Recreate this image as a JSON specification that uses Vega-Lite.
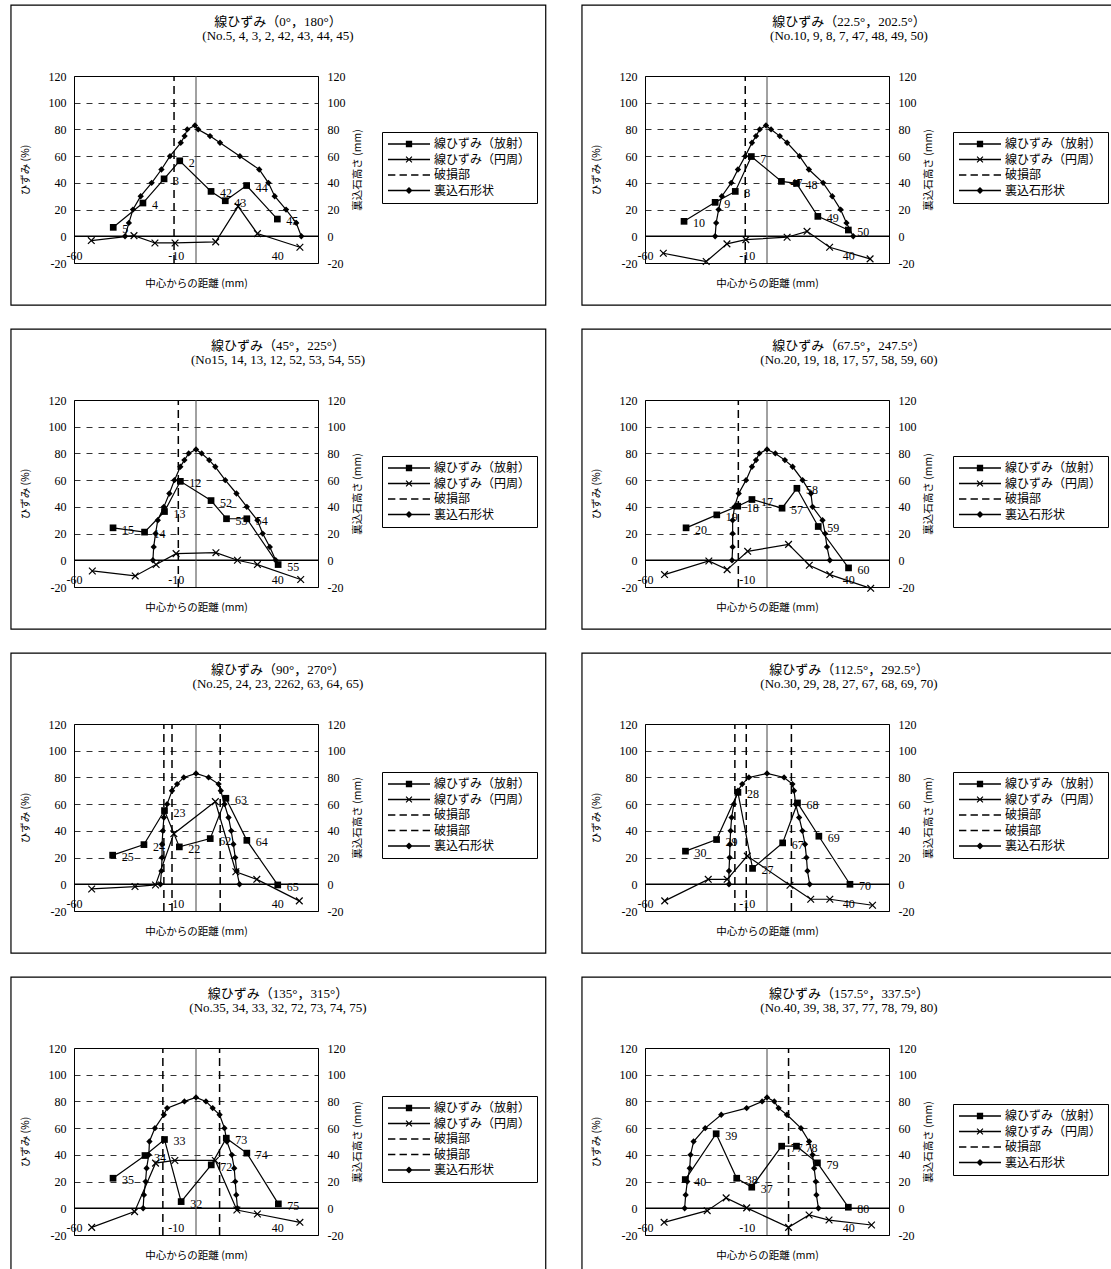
{
"$schema":"https://vega.github.io/schema/vega-lite/v6.json",
"background":"white",
"padding":{"left":9,"top":4,"right":0,"bottom":0},
"config":{
 "view":{"stroke":"black","strokeWidth":1},
 "axis":{"labelFont":"Liberation Serif","labelFontSize":12,"labelColor":"black","titleFont":"Noto Sans CJK JP","titleFontSize":10.5,"titleFontWeight":"normal","titleColor":"black","ticks":false,"domain":false,"labelFlush":false,"labelOverlap":false,"grid":false},
 "title":{"font":"Liberation Serif, Noto Sans CJK JP","fontSize":13,"fontWeight":"normal","color":"black","anchor":"middle","frame":"group","dx":82,"offset":-38,"lineHeight":14},
 "legend":{"title":null,"strokeColor":"black","strokeWidth":1,"padding":6,"fillColor":"white","symbolSize":1764,"symbolStrokeWidth":0,"symbolFillColor":"black","symbolOpacity":1,"labelFont":"Noto Sans CJK JP","labelFontSize":12,"labelColor":"black","labelOffset":4,"rowPadding":3.5,"labelLimit":0,"clipHeight":12}
},
"datasets":{
"p1":[{"s":"r","x":-40.7,"y":6.7,"l":"5"},{"s":"r","x":-26.1,"y":24.9,"l":"4"},{"s":"r","x":-15.7,"y":43,"l":"3"},{"s":"r","x":-8,"y":56.5,"l":"2"},{"s":"r","x":7.4,"y":33.6,"l":"42"},{"s":"r","x":14.4,"y":26.6,"l":"43"},{"s":"r","x":24.9,"y":38,"l":"44"},{"s":"r","x":40,"y":12.9,"l":"45"},
{"s":"c","x":-51.5,"y":-3.2},{"s":"c","x":-30.5,"y":0.5},{"s":"c","x":-20.2,"y":-5},{"s":"c","x":-10.3,"y":-5},{"s":"c","x":9.7,"y":-4.2},{"s":"c","x":20.7,"y":22.4},{"s":"c","x":30.2,"y":2},{"s":"c","x":51.1,"y":-8.2},
{"s":"b","x":-34.9,"y":0},{"s":"b","x":-33,"y":10},{"s":"b","x":-31,"y":20},{"s":"b","x":-27.2,"y":30},{"s":"b","x":-21.8,"y":40},{"s":"b","x":-17,"y":50},{"s":"b","x":-12.8,"y":60},{"s":"b","x":-7.5,"y":70},{"s":"b","x":-5.6,"y":75},{"s":"b","x":-4.3,"y":80},{"s":"b","x":-0.5,"y":83},{"s":"b","x":1.1,"y":80},{"s":"b","x":6.9,"y":75},{"s":"b","x":11.8,"y":70},{"s":"b","x":21.6,"y":60},{"s":"b","x":31.1,"y":50},{"s":"b","x":35.6,"y":40},{"s":"b","x":38.7,"y":30},{"s":"b","x":44.3,"y":20},{"s":"b","x":49.3,"y":10},{"s":"b","x":51.8,"y":0},
{"s":"d","x":-10.8}],
"p2":[{"s":"r","x":-40.8,"y":11.2,"l":"10"},{"s":"r","x":-25.5,"y":25.4,"l":"9"},{"s":"r","x":-15.6,"y":33.6,"l":"8"},{"s":"r","x":-7.7,"y":59.7,"l":"7"},{"s":"r","x":7.1,"y":41.1,"l":"47"},{"s":"r","x":14.5,"y":39.6,"l":"48"},{"s":"r","x":25,"y":14.9,"l":"49"},{"s":"r","x":40,"y":4.7,"l":"50"},
{"s":"c","x":-51,"y":-12.7},{"s":"c","x":-29.9,"y":-18.9},{"s":"c","x":-19.7,"y":-5.7},{"s":"c","x":-10.4,"y":-2.5},{"s":"c","x":9.9,"y":-0.7},{"s":"c","x":19.7,"y":3.7},{"s":"c","x":30.8,"y":-8.2},{"s":"c","x":50.7,"y":-16.9},
{"s":"b","x":-25.5,"y":0},{"s":"b","x":-25,"y":10},{"s":"b","x":-23.8,"y":20},{"s":"b","x":-22.2,"y":30},{"s":"b","x":-17.6,"y":40},{"s":"b","x":-14.3,"y":50},{"s":"b","x":-10.7,"y":60},{"s":"b","x":-7.4,"y":70},{"s":"b","x":-5.4,"y":75},{"s":"b","x":-3.6,"y":80},{"s":"b","x":-0.5,"y":83},{"s":"b","x":2,"y":80},{"s":"b","x":6.3,"y":75},{"s":"b","x":9.9,"y":70},{"s":"b","x":16,"y":60},{"s":"b","x":20.6,"y":50},{"s":"b","x":27.6,"y":40},{"s":"b","x":32.1,"y":30},{"s":"b","x":36.2,"y":20},{"s":"b","x":39.1,"y":10},{"s":"b","x":42.4,"y":0},
{"s":"d","x":-10.7}],
"p3":[{"s":"r","x":-40.8,"y":24.3,"l":"15"},{"s":"r","x":-25.3,"y":21.1,"l":"14"},{"s":"r","x":-15.5,"y":36.5,"l":"13"},{"s":"r","x":-7.7,"y":59.1,"l":"12"},{"s":"r","x":7.4,"y":44.7,"l":"52"},{"s":"r","x":15,"y":31.1,"l":"53"},{"s":"r","x":25,"y":31.1,"l":"54"},{"s":"r","x":40.4,"y":-3.2,"l":"55"},
{"s":"c","x":-51,"y":-8},{"s":"c","x":-29.9,"y":-11.7},{"s":"c","x":-19.6,"y":-3.2},{"s":"c","x":-9.8,"y":5},{"s":"c","x":9.8,"y":5.7},{"s":"c","x":20.4,"y":0},{"s":"c","x":30.2,"y":-3.2},{"s":"c","x":51.5,"y":-14.4},
{"s":"b","x":-21.2,"y":0},{"s":"b","x":-20.8,"y":10},{"s":"b","x":-19.9,"y":20},{"s":"b","x":-18.8,"y":30},{"s":"b","x":-15.8,"y":40},{"s":"b","x":-13.1,"y":50},{"s":"b","x":-10.6,"y":60},{"s":"b","x":-7.7,"y":70},{"s":"b","x":-5.7,"y":75},{"s":"b","x":-3.6,"y":80},{"s":"b","x":0,"y":83},{"s":"b","x":2.8,"y":80},{"s":"b","x":6.5,"y":75},{"s":"b","x":9.5,"y":70},{"s":"b","x":14.4,"y":60},{"s":"b","x":19.9,"y":50},{"s":"b","x":25,"y":40},{"s":"b","x":30.2,"y":30},{"s":"b","x":32.8,"y":20},{"s":"b","x":36.3,"y":10},{"s":"b","x":39.2,"y":0},
{"s":"d","x":-8.7}],
"p4":[{"s":"r","x":-39.8,"y":24.3,"l":"20"},{"s":"r","x":-24.7,"y":34,"l":"19"},{"s":"r","x":-14.4,"y":40.5,"l":"18"},{"s":"r","x":-7.4,"y":45.5,"l":"17"},{"s":"r","x":7.4,"y":39,"l":"57"},{"s":"r","x":14.7,"y":53.9,"l":"58"},{"s":"r","x":25.2,"y":25.3,"l":"59"},{"s":"r","x":40.1,"y":-5.7,"l":"60"},
{"s":"c","x":-50.4,"y":-10.7},{"s":"c","x":-28.6,"y":-0.5},{"s":"c","x":-19.6,"y":-7},{"s":"c","x":-9.5,"y":6.7},{"s":"c","x":10.6,"y":11.9},{"s":"c","x":20.8,"y":-3.7},{"s":"c","x":30.9,"y":-10.7},{"s":"c","x":51,"y":-21},
{"s":"b","x":-17.2,"y":0},{"s":"b","x":-16.9,"y":10},{"s":"b","x":-16.9,"y":20},{"s":"b","x":-16.9,"y":30},{"s":"b","x":-16,"y":40},{"s":"b","x":-13.9,"y":50},{"s":"b","x":-10.3,"y":60},{"s":"b","x":-7.4,"y":70},{"s":"b","x":-5.4,"y":75},{"s":"b","x":-3.8,"y":80},{"s":"b","x":0,"y":83},{"s":"b","x":4.1,"y":80},{"s":"b","x":8.8,"y":75},{"s":"b","x":12.6,"y":70},{"s":"b","x":17.5,"y":60},{"s":"b","x":21.6,"y":50},{"s":"b","x":22.4,"y":40},{"s":"b","x":27.3,"y":30},{"s":"b","x":28.6,"y":20},{"s":"b","x":29.5,"y":10},{"s":"b","x":30.9,"y":0},
{"s":"d","x":-14.1}],
"p5":[{"s":"r","x":-41,"y":21.8,"l":"25"},{"s":"r","x":-25.6,"y":29.7,"l":"24"},{"s":"r","x":-15.5,"y":55.2,"l":"23"},{"s":"r","x":-8.2,"y":28,"l":"22"},{"s":"r","x":7,"y":34.2,"l":"62"},{"s":"r","x":14.7,"y":64.4,"l":"63"},{"s":"r","x":25,"y":32.9,"l":"64"},{"s":"r","x":40.2,"y":-0.5,"l":"65"},
{"s":"c","x":-51.3,"y":-3.5},{"s":"c","x":-30,"y":-1.7},{"s":"c","x":-19.9,"y":-0.5},{"s":"c","x":-10.9,"y":37.9},{"s":"c","x":9.5,"y":61.9},{"s":"c","x":19.6,"y":9.4},{"s":"c","x":29.9,"y":3.7},{"s":"c","x":50.8,"y":-12.4},
{"s":"b","x":-17.5,"y":0},{"s":"b","x":-17,"y":10},{"s":"b","x":-16.7,"y":20},{"s":"b","x":-16.7,"y":30},{"s":"b","x":-16.3,"y":40},{"s":"b","x":-15.8,"y":50},{"s":"b","x":-14.2,"y":60},{"s":"b","x":-11.8,"y":70},{"s":"b","x":-9.3,"y":75},{"s":"b","x":-6,"y":80},{"s":"b","x":0,"y":83},{"s":"b","x":6.2,"y":80},{"s":"b","x":11.1,"y":75},{"s":"b","x":12.2,"y":70},{"s":"b","x":14,"y":60},{"s":"b","x":16,"y":50},{"s":"b","x":17.3,"y":40},{"s":"b","x":18.4,"y":30},{"s":"b","x":19.3,"y":20},{"s":"b","x":20,"y":10},{"s":"b","x":21.4,"y":0},
{"s":"d","x":-15.8},{"s":"d","x":-11.8},{"s":"d","x":11.9}],
"p6":[{"s":"r","x":-40.1,"y":24.8,"l":"30"},{"s":"r","x":-24.8,"y":33.5,"l":"29"},{"s":"r","x":-14.3,"y":68.8,"l":"28"},{"s":"r","x":-7.1,"y":11.9,"l":"27"},{"s":"r","x":7.7,"y":31,"l":"67"},{"s":"r","x":15,"y":60.9,"l":"68"},{"s":"r","x":25.5,"y":36,"l":"69"},{"s":"r","x":40.8,"y":0,"l":"70"},
{"s":"c","x":-50.3,"y":-12.4},{"s":"c","x":-28.9,"y":3.7},{"s":"c","x":-19.6,"y":3.7},{"s":"c","x":-9.7,"y":21.1},{"s":"c","x":11.3,"y":-0.7},{"s":"c","x":21.5,"y":-11.2},{"s":"c","x":30.9,"y":-11.2},{"s":"c","x":51.9,"y":-15.7},
{"s":"b","x":-18.7,"y":0},{"s":"b","x":-18.7,"y":10},{"s":"b","x":-18.4,"y":20},{"s":"b","x":-18.2,"y":30},{"s":"b","x":-17.9,"y":40},{"s":"b","x":-17.4,"y":50},{"s":"b","x":-16.3,"y":60},{"s":"b","x":-14.3,"y":70},{"s":"b","x":-12.2,"y":75},{"s":"b","x":-8.9,"y":80},{"s":"b","x":0,"y":83},{"s":"b","x":8.4,"y":80},{"s":"b","x":12.5,"y":75},{"s":"b","x":13.3,"y":70},{"s":"b","x":14.1,"y":60},{"s":"b","x":15.8,"y":50},{"s":"b","x":17.4,"y":40},{"s":"b","x":18.7,"y":30},{"s":"b","x":19.4,"y":20},{"s":"b","x":19.9,"y":10},{"s":"b","x":21,"y":0},
{"s":"d","x":-15.8},{"s":"d","x":-10.2},{"s":"d","x":12}],
"p7":[{"s":"r","x":-40.8,"y":22.5,"l":"35"},{"s":"r","x":-25.1,"y":39.5,"l":"34"},{"s":"r","x":-15.5,"y":51.5,"l":"33"},{"s":"r","x":-7.3,"y":5,"l":"32"},{"s":"r","x":7.5,"y":32.5,"l":"72"},{"s":"r","x":14.9,"y":52.5,"l":"73"},{"s":"r","x":25,"y":41.3,"l":"74"},{"s":"r","x":40.5,"y":3.3,"l":"75"},
{"s":"c","x":-51.3,"y":-14.3},{"s":"c","x":-30.2,"y":-2.5},{"s":"c","x":-19.9,"y":33.8},{"s":"c","x":-10.4,"y":35.8},{"s":"c","x":9.5,"y":35.8},{"s":"c","x":20.1,"y":-1.3},{"s":"c","x":30.2,"y":-4.3},{"s":"c","x":51.1,"y":-10.5},
{"s":"b","x":-26,"y":0},{"s":"b","x":-25.6,"y":10},{"s":"b","x":-24.8,"y":20},{"s":"b","x":-24.3,"y":30},{"s":"b","x":-23.2,"y":40},{"s":"b","x":-22.9,"y":50},{"s":"b","x":-20.2,"y":60},{"s":"b","x":-15.8,"y":70},{"s":"b","x":-14.2,"y":75},{"s":"b","x":-5.7,"y":80},{"s":"b","x":0,"y":83},{"s":"b","x":4.9,"y":80},{"s":"b","x":8.2,"y":75},{"s":"b","x":11.6,"y":70},{"s":"b","x":14,"y":60},{"s":"b","x":15.2,"y":50},{"s":"b","x":17.6,"y":40},{"s":"b","x":18.8,"y":30},{"s":"b","x":19.3,"y":20},{"s":"b","x":19.8,"y":10},{"s":"b","x":20.4,"y":0},
{"s":"d","x":-16.3},{"s":"d","x":11.6}],
"p8":[{"s":"r","x":-40.2,"y":21.5,"l":"40"},{"s":"r","x":-25,"y":55.8,"l":"39"},{"s":"r","x":-14.9,"y":22.5,"l":"38"},{"s":"r","x":-7.5,"y":15.8,"l":"37"},{"s":"r","x":7.2,"y":46.5,"l":"77"},{"s":"r","x":14.5,"y":46.5,"l":"78"},{"s":"r","x":24.8,"y":34,"l":"79"},{"s":"r","x":40,"y":0.8,"l":"80"},
{"s":"c","x":-50.6,"y":-10.5},{"s":"c","x":-29.4,"y":-1.8},{"s":"c","x":-20.1,"y":7.8},{"s":"c","x":-10,"y":0.3},{"s":"c","x":10.6,"y":-14.3},{"s":"c","x":20.7,"y":-5},{"s":"c","x":30.5,"y":-8.8},{"s":"c","x":51.4,"y":-12.5},
{"s":"b","x":-40.5,"y":0},{"s":"b","x":-40,"y":10},{"s":"b","x":-39.2,"y":20},{"s":"b","x":-38,"y":30},{"s":"b","x":-37.6,"y":40},{"s":"b","x":-36.1,"y":50},{"s":"b","x":-30.4,"y":60},{"s":"b","x":-22.5,"y":70},{"s":"b","x":-10,"y":75},{"s":"b","x":-2.4,"y":80},{"s":"b","x":0,"y":83},{"s":"b","x":3.6,"y":80},{"s":"b","x":5.7,"y":75},{"s":"b","x":9.8,"y":70},{"s":"b","x":16.7,"y":60},{"s":"b","x":20.7,"y":50},{"s":"b","x":22.4,"y":40},{"s":"b","x":23.2,"y":30},{"s":"b","x":24,"y":20},{"s":"b","x":24.3,"y":10},{"s":"b","x":25.3,"y":0},
{"s":"d","x":10.6}],
"L4":[{"n":"線ひずみ（放射）"},{"n":"線ひずみ（円周）"},{"n":"破損部"},{"n":"裏込石形状"}],
"L5":[{"n":"線ひずみ（放射）"},{"n":"線ひずみ（円周）"},{"n":"破損部"},{"n":"破損部 "},{"n":"裏込石形状"}]
},
"spacing":21,
"resolve":{"scale":{"shape":"independent"},"legend":{"shape":"independent"}},
"vconcat":[
{"spacing":33,"resolve":{"scale":{"shape":"independent"},"legend":{"shape":"independent"}},"hconcat":[
{"width":244,"height":187,"title":{"text":["線ひずみ（0°，180°）","(No.5, 4, 3, 2, 42, 43, 44, 45)"]},"data":{"name":"p1"},"resolve":{"scale":{"y":"independent"}},
"layer":[
{"layer":[
{"data":{"values":[{}]},"mark":{"type":"rect","fill":"transparent","stroke":"black","strokeWidth":1.2},"encoding":{"x":{"datum":-91,"type":"quantitative"},"x2":{"datum":172},"y":{"datum":173,"type":"quantitative"},"y2":{"datum":-51.5}}},
{"data":{"values":[{}]},"mark":{"type":"rule","color":"black","strokeWidth":1.5},"encoding":{"x":{"datum":-60,"type":"quantitative"},"x2":{"datum":60},"y":{"datum":0,"type":"quantitative"}}},
{"data":{"values":[{}]},"mark":{"type":"rule","color":"#444","strokeWidth":1},"encoding":{"x":{"datum":0,"type":"quantitative"},"y":{"datum":-20,"type":"quantitative"},"y2":{"datum":120}}},
{"transform":[{"filter":"datum.s=='d'"}],"mark":{"type":"rule","color":"black","strokeWidth":1.5,"strokeDash":[8,5]},"encoding":{"x":{"field":"x","type":"quantitative"},"y":{"datum":-20,"type":"quantitative"},"y2":{"datum":120}}},
{"transform":[{"filter":"datum.s=='r'"}],"mark":{"type":"line","color":"black","strokeWidth":1.2,"point":{"shape":"square","filled":true,"size":45,"color":"black"}},"encoding":{"x":{"field":"x","type":"quantitative","scale":{"domain":[-60,60],"nice":false,"zero":false},"axis":{"values":[-60,-10,40],"tickCount":20,"offset":-13,"labelPadding":0,"titlePadding":17,"title":"中心からの距離 (mm)","labelExpr":"''+datum.value"}},"y":{"field":"y","type":"quantitative","scale":{"domain":[-20,120],"nice":false,"zero":false},"axis":{"values":[-20,0,20,40,60,80,100,120],"tickCount":20,"labelOverlap":false,"grid":true,"gridDash":[6,6],"gridColor":"black","gridWidth":0.8,"labelPadding":8,"title":"ひずみ (%)","titlePadding":18,"labelExpr":"''+datum.value"}},"order":{"value":null}}},
{"transform":[{"filter":"datum.s=='r'"}],"mark":{"type":"text","align":"left","baseline":"middle","dx":9,"dy":2,"font":"Liberation Serif","fontSize":12,"color":"black"},"encoding":{"x":{"field":"x","type":"quantitative"},"y":{"field":"y","type":"quantitative"},"text":{"field":"l"}}},
{"transform":[{"filter":"datum.s=='c'"}],"mark":{"type":"line","color":"black","strokeWidth":1.2,"point":{"shape":"M-1,-1L1,1M-1,1L1,-1","filled":false,"size":45,"color":"black","strokeWidth":1.2}},"encoding":{"x":{"field":"x","type":"quantitative"},"y":{"field":"y","type":"quantitative"},"order":{"value":null}}},
{"data":{"name":"L4"},"mark":{"type":"point","filled":true,"fill":"black","opacity":0},"encoding":{"x":{"datum":0,"type":"quantitative"},"y":{"datum":0,"type":"quantitative"},"shape":{"field":"n","type":"nominal","scale":{"domain":["線ひずみ（放射）","線ひずみ（円周）","破損部","裏込石形状"],"range":["M-1,-0.03H1V0.03H-1ZM-0.15,-0.15H0.15V0.15H-0.15Z","M-1,-0.03H1V0.03H-1ZM-0.16,-0.12L-0.12,-0.16L0.16,0.12L0.12,0.16ZM-0.16,0.12L0.12,-0.16L0.16,-0.12L-0.12,0.16Z","M-1,-0.03H-0.65V0.03H-1ZM-0.45,-0.03H-0.1V0.03H-0.45ZM0.1,-0.03H0.45V0.03H0.1ZM0.65,-0.03H1V0.03H0.65Z","M-1,-0.03H1V0.03H-1ZM0,-0.17L0.17,0L0,0.17L-0.17,0Z"]},"legend":{"orient":"none","legendX":308,"legendY":56}}}}
]},
{"transform":[{"filter":"datum.s=='b'"}],"mark":{"type":"line","color":"black","strokeWidth":1.2,"point":{"shape":"diamond","filled":true,"size":40,"color":"black"}},"encoding":{"x":{"field":"x","type":"quantitative"},"y":{"field":"y","type":"quantitative","scale":{"domain":[-20,120],"nice":false,"zero":false},"axis":{"orient":"right","values":[-20,0,20,40,60,80,100,120],"tickCount":20,"labelPadding":9,"title":"裏込石高さ (mm)","titlePadding":17,"titleAngle":270,"labelExpr":"''+datum.value"}},"order":{"value":null}}}
]},
{"width":244,"height":187,"title":{"text":["線ひずみ（22.5°，202.5°）","(No.10, 9, 8, 7, 47, 48, 49, 50)"]},"data":{"name":"p2"},"resolve":{"scale":{"y":"independent"}},
"layer":[
{"layer":[
{"data":{"values":[{}]},"mark":{"type":"rect","fill":"transparent","stroke":"black","strokeWidth":1.2},"encoding":{"x":{"datum":-91,"type":"quantitative"},"x2":{"datum":172},"y":{"datum":173,"type":"quantitative"},"y2":{"datum":-51.5}}},
{"data":{"values":[{}]},"mark":{"type":"rule","color":"black","strokeWidth":1.5},"encoding":{"x":{"datum":-60,"type":"quantitative"},"x2":{"datum":60},"y":{"datum":0,"type":"quantitative"}}},
{"data":{"values":[{}]},"mark":{"type":"rule","color":"#444","strokeWidth":1},"encoding":{"x":{"datum":0,"type":"quantitative"},"y":{"datum":-20,"type":"quantitative"},"y2":{"datum":120}}},
{"transform":[{"filter":"datum.s=='d'"}],"mark":{"type":"rule","color":"black","strokeWidth":1.5,"strokeDash":[8,5]},"encoding":{"x":{"field":"x","type":"quantitative"},"y":{"datum":-20,"type":"quantitative"},"y2":{"datum":120}}},
{"transform":[{"filter":"datum.s=='r'"}],"mark":{"type":"line","color":"black","strokeWidth":1.2,"point":{"shape":"square","filled":true,"size":45,"color":"black"}},"encoding":{"x":{"field":"x","type":"quantitative","scale":{"domain":[-60,60],"nice":false,"zero":false},"axis":{"values":[-60,-10,40],"tickCount":20,"offset":-13,"labelPadding":0,"titlePadding":17,"title":"中心からの距離 (mm)","labelExpr":"''+datum.value"}},"y":{"field":"y","type":"quantitative","scale":{"domain":[-20,120],"nice":false,"zero":false},"axis":{"values":[-20,0,20,40,60,80,100,120],"tickCount":20,"labelOverlap":false,"grid":true,"gridDash":[6,6],"gridColor":"black","gridWidth":0.8,"labelPadding":8,"title":"ひずみ (%)","titlePadding":18,"labelExpr":"''+datum.value"}},"order":{"value":null}}},
{"transform":[{"filter":"datum.s=='r'"}],"mark":{"type":"text","align":"left","baseline":"middle","dx":9,"dy":2,"font":"Liberation Serif","fontSize":12,"color":"black"},"encoding":{"x":{"field":"x","type":"quantitative"},"y":{"field":"y","type":"quantitative"},"text":{"field":"l"}}},
{"transform":[{"filter":"datum.s=='c'"}],"mark":{"type":"line","color":"black","strokeWidth":1.2,"point":{"shape":"M-1,-1L1,1M-1,1L1,-1","filled":false,"size":45,"color":"black","strokeWidth":1.2}},"encoding":{"x":{"field":"x","type":"quantitative"},"y":{"field":"y","type":"quantitative"},"order":{"value":null}}},
{"data":{"name":"L4"},"mark":{"type":"point","filled":true,"fill":"black","opacity":0},"encoding":{"x":{"datum":0,"type":"quantitative"},"y":{"datum":0,"type":"quantitative"},"shape":{"field":"n","type":"nominal","scale":{"domain":["線ひずみ（放射）","線ひずみ（円周）","破損部","裏込石形状"],"range":["M-1,-0.03H1V0.03H-1ZM-0.15,-0.15H0.15V0.15H-0.15Z","M-1,-0.03H1V0.03H-1ZM-0.16,-0.12L-0.12,-0.16L0.16,0.12L0.12,0.16ZM-0.16,0.12L0.12,-0.16L0.16,-0.12L-0.12,0.16Z","M-1,-0.03H-0.65V0.03H-1ZM-0.45,-0.03H-0.1V0.03H-0.45ZM0.1,-0.03H0.45V0.03H0.1ZM0.65,-0.03H1V0.03H0.65Z","M-1,-0.03H1V0.03H-1ZM0,-0.17L0.17,0L0,0.17L-0.17,0Z"]},"legend":{"orient":"none","legendX":308,"legendY":56}}}}
]},
{"transform":[{"filter":"datum.s=='b'"}],"mark":{"type":"line","color":"black","strokeWidth":1.2,"point":{"shape":"diamond","filled":true,"size":40,"color":"black"}},"encoding":{"x":{"field":"x","type":"quantitative"},"y":{"field":"y","type":"quantitative","scale":{"domain":[-20,120],"nice":false,"zero":false},"axis":{"orient":"right","values":[-20,0,20,40,60,80,100,120],"tickCount":20,"labelPadding":9,"title":"裏込石高さ (mm)","titlePadding":17,"titleAngle":270,"labelExpr":"''+datum.value"}},"order":{"value":null}}}
]}
]},
{"spacing":33,"resolve":{"scale":{"shape":"independent"},"legend":{"shape":"independent"}},"hconcat":[
{"width":244,"height":187,"title":{"text":["線ひずみ（45°，225°）","(No15, 14, 13, 12, 52, 53, 54, 55)"]},"data":{"name":"p3"},"resolve":{"scale":{"y":"independent"}},
"layer":[
{"layer":[
{"data":{"values":[{}]},"mark":{"type":"rect","fill":"transparent","stroke":"black","strokeWidth":1.2},"encoding":{"x":{"datum":-91,"type":"quantitative"},"x2":{"datum":172},"y":{"datum":173,"type":"quantitative"},"y2":{"datum":-51.5}}},
{"data":{"values":[{}]},"mark":{"type":"rule","color":"black","strokeWidth":1.5},"encoding":{"x":{"datum":-60,"type":"quantitative"},"x2":{"datum":60},"y":{"datum":0,"type":"quantitative"}}},
{"data":{"values":[{}]},"mark":{"type":"rule","color":"#444","strokeWidth":1},"encoding":{"x":{"datum":0,"type":"quantitative"},"y":{"datum":-20,"type":"quantitative"},"y2":{"datum":120}}},
{"transform":[{"filter":"datum.s=='d'"}],"mark":{"type":"rule","color":"black","strokeWidth":1.5,"strokeDash":[8,5]},"encoding":{"x":{"field":"x","type":"quantitative"},"y":{"datum":-20,"type":"quantitative"},"y2":{"datum":120}}},
{"transform":[{"filter":"datum.s=='r'"}],"mark":{"type":"line","color":"black","strokeWidth":1.2,"point":{"shape":"square","filled":true,"size":45,"color":"black"}},"encoding":{"x":{"field":"x","type":"quantitative","scale":{"domain":[-60,60],"nice":false,"zero":false},"axis":{"values":[-60,-10,40],"tickCount":20,"offset":-13,"labelPadding":0,"titlePadding":17,"title":"中心からの距離 (mm)","labelExpr":"''+datum.value"}},"y":{"field":"y","type":"quantitative","scale":{"domain":[-20,120],"nice":false,"zero":false},"axis":{"values":[-20,0,20,40,60,80,100,120],"tickCount":20,"labelOverlap":false,"grid":true,"gridDash":[6,6],"gridColor":"black","gridWidth":0.8,"labelPadding":8,"title":"ひずみ (%)","titlePadding":18,"labelExpr":"''+datum.value"}},"order":{"value":null}}},
{"transform":[{"filter":"datum.s=='r'"}],"mark":{"type":"text","align":"left","baseline":"middle","dx":9,"dy":2,"font":"Liberation Serif","fontSize":12,"color":"black"},"encoding":{"x":{"field":"x","type":"quantitative"},"y":{"field":"y","type":"quantitative"},"text":{"field":"l"}}},
{"transform":[{"filter":"datum.s=='c'"}],"mark":{"type":"line","color":"black","strokeWidth":1.2,"point":{"shape":"M-1,-1L1,1M-1,1L1,-1","filled":false,"size":45,"color":"black","strokeWidth":1.2}},"encoding":{"x":{"field":"x","type":"quantitative"},"y":{"field":"y","type":"quantitative"},"order":{"value":null}}},
{"data":{"name":"L4"},"mark":{"type":"point","filled":true,"fill":"black","opacity":0},"encoding":{"x":{"datum":0,"type":"quantitative"},"y":{"datum":0,"type":"quantitative"},"shape":{"field":"n","type":"nominal","scale":{"domain":["線ひずみ（放射）","線ひずみ（円周）","破損部","裏込石形状"],"range":["M-1,-0.03H1V0.03H-1ZM-0.15,-0.15H0.15V0.15H-0.15Z","M-1,-0.03H1V0.03H-1ZM-0.16,-0.12L-0.12,-0.16L0.16,0.12L0.12,0.16ZM-0.16,0.12L0.12,-0.16L0.16,-0.12L-0.12,0.16Z","M-1,-0.03H-0.65V0.03H-1ZM-0.45,-0.03H-0.1V0.03H-0.45ZM0.1,-0.03H0.45V0.03H0.1ZM0.65,-0.03H1V0.03H0.65Z","M-1,-0.03H1V0.03H-1ZM0,-0.17L0.17,0L0,0.17L-0.17,0Z"]},"legend":{"orient":"none","legendX":308,"legendY":56}}}}
]},
{"transform":[{"filter":"datum.s=='b'"}],"mark":{"type":"line","color":"black","strokeWidth":1.2,"point":{"shape":"diamond","filled":true,"size":40,"color":"black"}},"encoding":{"x":{"field":"x","type":"quantitative"},"y":{"field":"y","type":"quantitative","scale":{"domain":[-20,120],"nice":false,"zero":false},"axis":{"orient":"right","values":[-20,0,20,40,60,80,100,120],"tickCount":20,"labelPadding":9,"title":"裏込石高さ (mm)","titlePadding":17,"titleAngle":270,"labelExpr":"''+datum.value"}},"order":{"value":null}}}
]},
{"width":244,"height":187,"title":{"text":["線ひずみ（67.5°，247.5°）","(No.20, 19, 18, 17, 57, 58, 59, 60)"]},"data":{"name":"p4"},"resolve":{"scale":{"y":"independent"}},
"layer":[
{"layer":[
{"data":{"values":[{}]},"mark":{"type":"rect","fill":"transparent","stroke":"black","strokeWidth":1.2},"encoding":{"x":{"datum":-91,"type":"quantitative"},"x2":{"datum":172},"y":{"datum":173,"type":"quantitative"},"y2":{"datum":-51.5}}},
{"data":{"values":[{}]},"mark":{"type":"rule","color":"black","strokeWidth":1.5},"encoding":{"x":{"datum":-60,"type":"quantitative"},"x2":{"datum":60},"y":{"datum":0,"type":"quantitative"}}},
{"data":{"values":[{}]},"mark":{"type":"rule","color":"#444","strokeWidth":1},"encoding":{"x":{"datum":0,"type":"quantitative"},"y":{"datum":-20,"type":"quantitative"},"y2":{"datum":120}}},
{"transform":[{"filter":"datum.s=='d'"}],"mark":{"type":"rule","color":"black","strokeWidth":1.5,"strokeDash":[8,5]},"encoding":{"x":{"field":"x","type":"quantitative"},"y":{"datum":-20,"type":"quantitative"},"y2":{"datum":120}}},
{"transform":[{"filter":"datum.s=='r'"}],"mark":{"type":"line","color":"black","strokeWidth":1.2,"point":{"shape":"square","filled":true,"size":45,"color":"black"}},"encoding":{"x":{"field":"x","type":"quantitative","scale":{"domain":[-60,60],"nice":false,"zero":false},"axis":{"values":[-60,-10,40],"tickCount":20,"offset":-13,"labelPadding":0,"titlePadding":17,"title":"中心からの距離 (mm)","labelExpr":"''+datum.value"}},"y":{"field":"y","type":"quantitative","scale":{"domain":[-20,120],"nice":false,"zero":false},"axis":{"values":[-20,0,20,40,60,80,100,120],"tickCount":20,"labelOverlap":false,"grid":true,"gridDash":[6,6],"gridColor":"black","gridWidth":0.8,"labelPadding":8,"title":"ひずみ (%)","titlePadding":18,"labelExpr":"''+datum.value"}},"order":{"value":null}}},
{"transform":[{"filter":"datum.s=='r'"}],"mark":{"type":"text","align":"left","baseline":"middle","dx":9,"dy":2,"font":"Liberation Serif","fontSize":12,"color":"black"},"encoding":{"x":{"field":"x","type":"quantitative"},"y":{"field":"y","type":"quantitative"},"text":{"field":"l"}}},
{"transform":[{"filter":"datum.s=='c'"}],"mark":{"type":"line","color":"black","strokeWidth":1.2,"point":{"shape":"M-1,-1L1,1M-1,1L1,-1","filled":false,"size":45,"color":"black","strokeWidth":1.2}},"encoding":{"x":{"field":"x","type":"quantitative"},"y":{"field":"y","type":"quantitative"},"order":{"value":null}}},
{"data":{"name":"L4"},"mark":{"type":"point","filled":true,"fill":"black","opacity":0},"encoding":{"x":{"datum":0,"type":"quantitative"},"y":{"datum":0,"type":"quantitative"},"shape":{"field":"n","type":"nominal","scale":{"domain":["線ひずみ（放射）","線ひずみ（円周）","破損部","裏込石形状"],"range":["M-1,-0.03H1V0.03H-1ZM-0.15,-0.15H0.15V0.15H-0.15Z","M-1,-0.03H1V0.03H-1ZM-0.16,-0.12L-0.12,-0.16L0.16,0.12L0.12,0.16ZM-0.16,0.12L0.12,-0.16L0.16,-0.12L-0.12,0.16Z","M-1,-0.03H-0.65V0.03H-1ZM-0.45,-0.03H-0.1V0.03H-0.45ZM0.1,-0.03H0.45V0.03H0.1ZM0.65,-0.03H1V0.03H0.65Z","M-1,-0.03H1V0.03H-1ZM0,-0.17L0.17,0L0,0.17L-0.17,0Z"]},"legend":{"orient":"none","legendX":308,"legendY":56}}}}
]},
{"transform":[{"filter":"datum.s=='b'"}],"mark":{"type":"line","color":"black","strokeWidth":1.2,"point":{"shape":"diamond","filled":true,"size":40,"color":"black"}},"encoding":{"x":{"field":"x","type":"quantitative"},"y":{"field":"y","type":"quantitative","scale":{"domain":[-20,120],"nice":false,"zero":false},"axis":{"orient":"right","values":[-20,0,20,40,60,80,100,120],"tickCount":20,"labelPadding":9,"title":"裏込石高さ (mm)","titlePadding":17,"titleAngle":270,"labelExpr":"''+datum.value"}},"order":{"value":null}}}
]}
]},
{"spacing":33,"resolve":{"scale":{"shape":"independent"},"legend":{"shape":"independent"}},"hconcat":[
{"width":244,"height":187,"title":{"text":["線ひずみ（90°，270°）","(No.25, 24, 23, 2262, 63, 64, 65)"]},"data":{"name":"p5"},"resolve":{"scale":{"y":"independent"}},
"layer":[
{"layer":[
{"data":{"values":[{}]},"mark":{"type":"rect","fill":"transparent","stroke":"black","strokeWidth":1.2},"encoding":{"x":{"datum":-91,"type":"quantitative"},"x2":{"datum":172},"y":{"datum":173,"type":"quantitative"},"y2":{"datum":-51.5}}},
{"data":{"values":[{}]},"mark":{"type":"rule","color":"black","strokeWidth":1.5},"encoding":{"x":{"datum":-60,"type":"quantitative"},"x2":{"datum":60},"y":{"datum":0,"type":"quantitative"}}},
{"data":{"values":[{}]},"mark":{"type":"rule","color":"#444","strokeWidth":1},"encoding":{"x":{"datum":0,"type":"quantitative"},"y":{"datum":-20,"type":"quantitative"},"y2":{"datum":120}}},
{"transform":[{"filter":"datum.s=='d'"}],"mark":{"type":"rule","color":"black","strokeWidth":1.5,"strokeDash":[8,5]},"encoding":{"x":{"field":"x","type":"quantitative"},"y":{"datum":-20,"type":"quantitative"},"y2":{"datum":120}}},
{"transform":[{"filter":"datum.s=='r'"}],"mark":{"type":"line","color":"black","strokeWidth":1.2,"point":{"shape":"square","filled":true,"size":45,"color":"black"}},"encoding":{"x":{"field":"x","type":"quantitative","scale":{"domain":[-60,60],"nice":false,"zero":false},"axis":{"values":[-60,-10,40],"tickCount":20,"offset":-13,"labelPadding":0,"titlePadding":17,"title":"中心からの距離 (mm)","labelExpr":"''+datum.value"}},"y":{"field":"y","type":"quantitative","scale":{"domain":[-20,120],"nice":false,"zero":false},"axis":{"values":[-20,0,20,40,60,80,100,120],"tickCount":20,"labelOverlap":false,"grid":true,"gridDash":[6,6],"gridColor":"black","gridWidth":0.8,"labelPadding":8,"title":"ひずみ (%)","titlePadding":18,"labelExpr":"''+datum.value"}},"order":{"value":null}}},
{"transform":[{"filter":"datum.s=='r'"}],"mark":{"type":"text","align":"left","baseline":"middle","dx":9,"dy":2,"font":"Liberation Serif","fontSize":12,"color":"black"},"encoding":{"x":{"field":"x","type":"quantitative"},"y":{"field":"y","type":"quantitative"},"text":{"field":"l"}}},
{"transform":[{"filter":"datum.s=='c'"}],"mark":{"type":"line","color":"black","strokeWidth":1.2,"point":{"shape":"M-1,-1L1,1M-1,1L1,-1","filled":false,"size":45,"color":"black","strokeWidth":1.2}},"encoding":{"x":{"field":"x","type":"quantitative"},"y":{"field":"y","type":"quantitative"},"order":{"value":null}}},
{"data":{"name":"L5"},"mark":{"type":"point","filled":true,"fill":"black","opacity":0},"encoding":{"x":{"datum":0,"type":"quantitative"},"y":{"datum":0,"type":"quantitative"},"shape":{"field":"n","type":"nominal","scale":{"domain":["線ひずみ（放射）","線ひずみ（円周）","破損部","破損部 ","裏込石形状"],"range":["M-1,-0.03H1V0.03H-1ZM-0.15,-0.15H0.15V0.15H-0.15Z","M-1,-0.03H1V0.03H-1ZM-0.16,-0.12L-0.12,-0.16L0.16,0.12L0.12,0.16ZM-0.16,0.12L0.12,-0.16L0.16,-0.12L-0.12,0.16Z","M-1,-0.03H-0.65V0.03H-1ZM-0.45,-0.03H-0.1V0.03H-0.45ZM0.1,-0.03H0.45V0.03H0.1ZM0.65,-0.03H1V0.03H0.65Z","M-1,-0.03H-0.65V0.03H-1ZM-0.45,-0.03H-0.1V0.03H-0.45ZM0.1,-0.03H0.45V0.03H0.1ZM0.65,-0.03H1V0.03H0.65Z","M-1,-0.03H1V0.03H-1ZM0,-0.17L0.17,0L0,0.17L-0.17,0Z"]},"legend":{"orient":"none","legendX":308,"legendY":48}}}}
]},
{"transform":[{"filter":"datum.s=='b'"}],"mark":{"type":"line","color":"black","strokeWidth":1.2,"point":{"shape":"diamond","filled":true,"size":40,"color":"black"}},"encoding":{"x":{"field":"x","type":"quantitative"},"y":{"field":"y","type":"quantitative","scale":{"domain":[-20,120],"nice":false,"zero":false},"axis":{"orient":"right","values":[-20,0,20,40,60,80,100,120],"tickCount":20,"labelPadding":9,"title":"裏込石高さ (mm)","titlePadding":17,"titleAngle":270,"labelExpr":"''+datum.value"}},"order":{"value":null}}}
]},
{"width":244,"height":187,"title":{"text":["線ひずみ（112.5°，292.5°）","(No.30, 29, 28, 27, 67, 68, 69, 70)"]},"data":{"name":"p6"},"resolve":{"scale":{"y":"independent"}},
"layer":[
{"layer":[
{"data":{"values":[{}]},"mark":{"type":"rect","fill":"transparent","stroke":"black","strokeWidth":1.2},"encoding":{"x":{"datum":-91,"type":"quantitative"},"x2":{"datum":172},"y":{"datum":173,"type":"quantitative"},"y2":{"datum":-51.5}}},
{"data":{"values":[{}]},"mark":{"type":"rule","color":"black","strokeWidth":1.5},"encoding":{"x":{"datum":-60,"type":"quantitative"},"x2":{"datum":60},"y":{"datum":0,"type":"quantitative"}}},
{"data":{"values":[{}]},"mark":{"type":"rule","color":"#444","strokeWidth":1},"encoding":{"x":{"datum":0,"type":"quantitative"},"y":{"datum":-20,"type":"quantitative"},"y2":{"datum":120}}},
{"transform":[{"filter":"datum.s=='d'"}],"mark":{"type":"rule","color":"black","strokeWidth":1.5,"strokeDash":[8,5]},"encoding":{"x":{"field":"x","type":"quantitative"},"y":{"datum":-20,"type":"quantitative"},"y2":{"datum":120}}},
{"transform":[{"filter":"datum.s=='r'"}],"mark":{"type":"line","color":"black","strokeWidth":1.2,"point":{"shape":"square","filled":true,"size":45,"color":"black"}},"encoding":{"x":{"field":"x","type":"quantitative","scale":{"domain":[-60,60],"nice":false,"zero":false},"axis":{"values":[-60,-10,40],"tickCount":20,"offset":-13,"labelPadding":0,"titlePadding":17,"title":"中心からの距離 (mm)","labelExpr":"''+datum.value"}},"y":{"field":"y","type":"quantitative","scale":{"domain":[-20,120],"nice":false,"zero":false},"axis":{"values":[-20,0,20,40,60,80,100,120],"tickCount":20,"labelOverlap":false,"grid":true,"gridDash":[6,6],"gridColor":"black","gridWidth":0.8,"labelPadding":8,"title":"ひずみ (%)","titlePadding":18,"labelExpr":"''+datum.value"}},"order":{"value":null}}},
{"transform":[{"filter":"datum.s=='r'"}],"mark":{"type":"text","align":"left","baseline":"middle","dx":9,"dy":2,"font":"Liberation Serif","fontSize":12,"color":"black"},"encoding":{"x":{"field":"x","type":"quantitative"},"y":{"field":"y","type":"quantitative"},"text":{"field":"l"}}},
{"transform":[{"filter":"datum.s=='c'"}],"mark":{"type":"line","color":"black","strokeWidth":1.2,"point":{"shape":"M-1,-1L1,1M-1,1L1,-1","filled":false,"size":45,"color":"black","strokeWidth":1.2}},"encoding":{"x":{"field":"x","type":"quantitative"},"y":{"field":"y","type":"quantitative"},"order":{"value":null}}},
{"data":{"name":"L5"},"mark":{"type":"point","filled":true,"fill":"black","opacity":0},"encoding":{"x":{"datum":0,"type":"quantitative"},"y":{"datum":0,"type":"quantitative"},"shape":{"field":"n","type":"nominal","scale":{"domain":["線ひずみ（放射）","線ひずみ（円周）","破損部","破損部 ","裏込石形状"],"range":["M-1,-0.03H1V0.03H-1ZM-0.15,-0.15H0.15V0.15H-0.15Z","M-1,-0.03H1V0.03H-1ZM-0.16,-0.12L-0.12,-0.16L0.16,0.12L0.12,0.16ZM-0.16,0.12L0.12,-0.16L0.16,-0.12L-0.12,0.16Z","M-1,-0.03H-0.65V0.03H-1ZM-0.45,-0.03H-0.1V0.03H-0.45ZM0.1,-0.03H0.45V0.03H0.1ZM0.65,-0.03H1V0.03H0.65Z","M-1,-0.03H-0.65V0.03H-1ZM-0.45,-0.03H-0.1V0.03H-0.45ZM0.1,-0.03H0.45V0.03H0.1ZM0.65,-0.03H1V0.03H0.65Z","M-1,-0.03H1V0.03H-1ZM0,-0.17L0.17,0L0,0.17L-0.17,0Z"]},"legend":{"orient":"none","legendX":308,"legendY":48}}}}
]},
{"transform":[{"filter":"datum.s=='b'"}],"mark":{"type":"line","color":"black","strokeWidth":1.2,"point":{"shape":"diamond","filled":true,"size":40,"color":"black"}},"encoding":{"x":{"field":"x","type":"quantitative"},"y":{"field":"y","type":"quantitative","scale":{"domain":[-20,120],"nice":false,"zero":false},"axis":{"orient":"right","values":[-20,0,20,40,60,80,100,120],"tickCount":20,"labelPadding":9,"title":"裏込石高さ (mm)","titlePadding":17,"titleAngle":270,"labelExpr":"''+datum.value"}},"order":{"value":null}}}
]}
]},
{"spacing":33,"resolve":{"scale":{"shape":"independent"},"legend":{"shape":"independent"}},"hconcat":[
{"width":244,"height":187,"title":{"text":["線ひずみ（135°，315°）","(No.35, 34, 33, 32, 72, 73, 74, 75)"]},"data":{"name":"p7"},"resolve":{"scale":{"y":"independent"}},
"layer":[
{"layer":[
{"data":{"values":[{}]},"mark":{"type":"rect","fill":"transparent","stroke":"black","strokeWidth":1.2},"encoding":{"x":{"datum":-91,"type":"quantitative"},"x2":{"datum":172},"y":{"datum":173,"type":"quantitative"},"y2":{"datum":-51.5}}},
{"data":{"values":[{}]},"mark":{"type":"rule","color":"black","strokeWidth":1.5},"encoding":{"x":{"datum":-60,"type":"quantitative"},"x2":{"datum":60},"y":{"datum":0,"type":"quantitative"}}},
{"data":{"values":[{}]},"mark":{"type":"rule","color":"#444","strokeWidth":1},"encoding":{"x":{"datum":0,"type":"quantitative"},"y":{"datum":-20,"type":"quantitative"},"y2":{"datum":120}}},
{"transform":[{"filter":"datum.s=='d'"}],"mark":{"type":"rule","color":"black","strokeWidth":1.5,"strokeDash":[8,5]},"encoding":{"x":{"field":"x","type":"quantitative"},"y":{"datum":-20,"type":"quantitative"},"y2":{"datum":120}}},
{"transform":[{"filter":"datum.s=='r'"}],"mark":{"type":"line","color":"black","strokeWidth":1.2,"point":{"shape":"square","filled":true,"size":45,"color":"black"}},"encoding":{"x":{"field":"x","type":"quantitative","scale":{"domain":[-60,60],"nice":false,"zero":false},"axis":{"values":[-60,-10,40],"tickCount":20,"offset":-13,"labelPadding":0,"titlePadding":17,"title":"中心からの距離 (mm)","labelExpr":"''+datum.value"}},"y":{"field":"y","type":"quantitative","scale":{"domain":[-20,120],"nice":false,"zero":false},"axis":{"values":[-20,0,20,40,60,80,100,120],"tickCount":20,"labelOverlap":false,"grid":true,"gridDash":[6,6],"gridColor":"black","gridWidth":0.8,"labelPadding":8,"title":"ひずみ (%)","titlePadding":18,"labelExpr":"''+datum.value"}},"order":{"value":null}}},
{"transform":[{"filter":"datum.s=='r'"}],"mark":{"type":"text","align":"left","baseline":"middle","dx":9,"dy":2,"font":"Liberation Serif","fontSize":12,"color":"black"},"encoding":{"x":{"field":"x","type":"quantitative"},"y":{"field":"y","type":"quantitative"},"text":{"field":"l"}}},
{"transform":[{"filter":"datum.s=='c'"}],"mark":{"type":"line","color":"black","strokeWidth":1.2,"point":{"shape":"M-1,-1L1,1M-1,1L1,-1","filled":false,"size":45,"color":"black","strokeWidth":1.2}},"encoding":{"x":{"field":"x","type":"quantitative"},"y":{"field":"y","type":"quantitative"},"order":{"value":null}}},
{"data":{"name":"L5"},"mark":{"type":"point","filled":true,"fill":"black","opacity":0},"encoding":{"x":{"datum":0,"type":"quantitative"},"y":{"datum":0,"type":"quantitative"},"shape":{"field":"n","type":"nominal","scale":{"domain":["線ひずみ（放射）","線ひずみ（円周）","破損部","破損部 ","裏込石形状"],"range":["M-1,-0.03H1V0.03H-1ZM-0.15,-0.15H0.15V0.15H-0.15Z","M-1,-0.03H1V0.03H-1ZM-0.16,-0.12L-0.12,-0.16L0.16,0.12L0.12,0.16ZM-0.16,0.12L0.12,-0.16L0.16,-0.12L-0.12,0.16Z","M-1,-0.03H-0.65V0.03H-1ZM-0.45,-0.03H-0.1V0.03H-0.45ZM0.1,-0.03H0.45V0.03H0.1ZM0.65,-0.03H1V0.03H0.65Z","M-1,-0.03H-0.65V0.03H-1ZM-0.45,-0.03H-0.1V0.03H-0.45ZM0.1,-0.03H0.45V0.03H0.1ZM0.65,-0.03H1V0.03H0.65Z","M-1,-0.03H1V0.03H-1ZM0,-0.17L0.17,0L0,0.17L-0.17,0Z"]},"legend":{"orient":"none","legendX":308,"legendY":48}}}}
]},
{"transform":[{"filter":"datum.s=='b'"}],"mark":{"type":"line","color":"black","strokeWidth":1.2,"point":{"shape":"diamond","filled":true,"size":40,"color":"black"}},"encoding":{"x":{"field":"x","type":"quantitative"},"y":{"field":"y","type":"quantitative","scale":{"domain":[-20,120],"nice":false,"zero":false},"axis":{"orient":"right","values":[-20,0,20,40,60,80,100,120],"tickCount":20,"labelPadding":9,"title":"裏込石高さ (mm)","titlePadding":17,"titleAngle":270,"labelExpr":"''+datum.value"}},"order":{"value":null}}}
]},
{"width":244,"height":187,"title":{"text":["線ひずみ（157.5°，337.5°）","(No.40, 39, 38, 37, 77, 78, 79, 80)"]},"data":{"name":"p8"},"resolve":{"scale":{"y":"independent"}},
"layer":[
{"layer":[
{"data":{"values":[{}]},"mark":{"type":"rect","fill":"transparent","stroke":"black","strokeWidth":1.2},"encoding":{"x":{"datum":-91,"type":"quantitative"},"x2":{"datum":172},"y":{"datum":173,"type":"quantitative"},"y2":{"datum":-51.5}}},
{"data":{"values":[{}]},"mark":{"type":"rule","color":"black","strokeWidth":1.5},"encoding":{"x":{"datum":-60,"type":"quantitative"},"x2":{"datum":60},"y":{"datum":0,"type":"quantitative"}}},
{"data":{"values":[{}]},"mark":{"type":"rule","color":"#444","strokeWidth":1},"encoding":{"x":{"datum":0,"type":"quantitative"},"y":{"datum":-20,"type":"quantitative"},"y2":{"datum":120}}},
{"transform":[{"filter":"datum.s=='d'"}],"mark":{"type":"rule","color":"black","strokeWidth":1.5,"strokeDash":[8,5]},"encoding":{"x":{"field":"x","type":"quantitative"},"y":{"datum":-20,"type":"quantitative"},"y2":{"datum":120}}},
{"transform":[{"filter":"datum.s=='r'"}],"mark":{"type":"line","color":"black","strokeWidth":1.2,"point":{"shape":"square","filled":true,"size":45,"color":"black"}},"encoding":{"x":{"field":"x","type":"quantitative","scale":{"domain":[-60,60],"nice":false,"zero":false},"axis":{"values":[-60,-10,40],"tickCount":20,"offset":-13,"labelPadding":0,"titlePadding":17,"title":"中心からの距離 (mm)","labelExpr":"''+datum.value"}},"y":{"field":"y","type":"quantitative","scale":{"domain":[-20,120],"nice":false,"zero":false},"axis":{"values":[-20,0,20,40,60,80,100,120],"tickCount":20,"labelOverlap":false,"grid":true,"gridDash":[6,6],"gridColor":"black","gridWidth":0.8,"labelPadding":8,"title":"ひずみ (%)","titlePadding":18,"labelExpr":"''+datum.value"}},"order":{"value":null}}},
{"transform":[{"filter":"datum.s=='r'"}],"mark":{"type":"text","align":"left","baseline":"middle","dx":9,"dy":2,"font":"Liberation Serif","fontSize":12,"color":"black"},"encoding":{"x":{"field":"x","type":"quantitative"},"y":{"field":"y","type":"quantitative"},"text":{"field":"l"}}},
{"transform":[{"filter":"datum.s=='c'"}],"mark":{"type":"line","color":"black","strokeWidth":1.2,"point":{"shape":"M-1,-1L1,1M-1,1L1,-1","filled":false,"size":45,"color":"black","strokeWidth":1.2}},"encoding":{"x":{"field":"x","type":"quantitative"},"y":{"field":"y","type":"quantitative"},"order":{"value":null}}},
{"data":{"name":"L4"},"mark":{"type":"point","filled":true,"fill":"black","opacity":0},"encoding":{"x":{"datum":0,"type":"quantitative"},"y":{"datum":0,"type":"quantitative"},"shape":{"field":"n","type":"nominal","scale":{"domain":["線ひずみ（放射）","線ひずみ（円周）","破損部","裏込石形状"],"range":["M-1,-0.03H1V0.03H-1ZM-0.15,-0.15H0.15V0.15H-0.15Z","M-1,-0.03H1V0.03H-1ZM-0.16,-0.12L-0.12,-0.16L0.16,0.12L0.12,0.16ZM-0.16,0.12L0.12,-0.16L0.16,-0.12L-0.12,0.16Z","M-1,-0.03H-0.65V0.03H-1ZM-0.45,-0.03H-0.1V0.03H-0.45ZM0.1,-0.03H0.45V0.03H0.1ZM0.65,-0.03H1V0.03H0.65Z","M-1,-0.03H1V0.03H-1ZM0,-0.17L0.17,0L0,0.17L-0.17,0Z"]},"legend":{"orient":"none","legendX":308,"legendY":56}}}}
]},
{"transform":[{"filter":"datum.s=='b'"}],"mark":{"type":"line","color":"black","strokeWidth":1.2,"point":{"shape":"diamond","filled":true,"size":40,"color":"black"}},"encoding":{"x":{"field":"x","type":"quantitative"},"y":{"field":"y","type":"quantitative","scale":{"domain":[-20,120],"nice":false,"zero":false},"axis":{"orient":"right","values":[-20,0,20,40,60,80,100,120],"tickCount":20,"labelPadding":9,"title":"裏込石高さ (mm)","titlePadding":17,"titleAngle":270,"labelExpr":"''+datum.value"}},"order":{"value":null}}}
]}
]}
]
}
